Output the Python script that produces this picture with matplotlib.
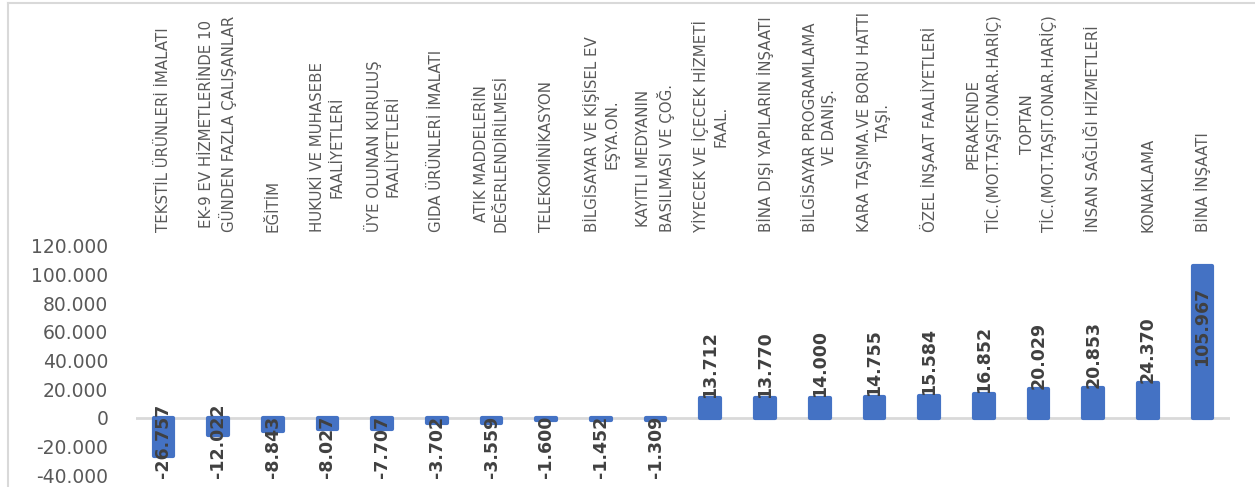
import matplotlib

matplotlib.use("Agg")
import matplotlib.pyplot as plt
from matplotlib.lines import Line2D
from matplotlib.transforms import blended_transform_factory

CATEGORIES = [
    "TEKSTİL ÜRÜNLERİ İMALATI",
    "EK-9 EV HİZMETLERİNDE 10\nGÜNDEN FAZLA ÇALIŞANLAR",
    "EĞİTİM",
    "HUKUKİ VE MUHASEBE\nFAALİYETLERİ",
    "ÜYE OLUNAN KURULUŞ\nFAALİYETLERİ",
    "GIDA ÜRÜNLERİ İMALATI",
    "ATIK MADDELERİN\nDEĞERLENDİRİLMESİ",
    "TELEKOMİNİKASYON",
    "BİLGİSAYAR VE KİŞİSEL EV\nEŞYA.ON.",
    "KAYITLI MEDYANIN\nBASILMASI VE ÇOĞ.",
    "YİYECEK VE İÇECEK HİZMETİ\nFAAL.",
    "BİNA DIŞI YAPILARIN İNŞAATI",
    "BİLGİSAYAR PROGRAMLAMA\nVE DANIŞ.",
    "KARA TAŞIMA.VE BORU HATTI\nTAŞI.",
    "ÖZEL İNŞAAT FAALİYETLERİ",
    "PERAKENDE\nTİC.(MOT.TAŞIT.ONAR.HARİÇ)",
    "TOPTAN\nTİC.(MOT.TAŞIT.ONAR.HARİÇ)",
    "İNSAN SAĞLIĞI HİZMETLERİ",
    "KONAKLAMA",
    "BİNA İNŞAATI",
]
VALUES = [
    -26757, -12022, -8843, -8027, -7707, -3702, -3559, -1600, -1452, -1309,
    13712, 13770, 14000, 14755, 15584, 16852, 20029, 20853, 24370, 105967,
]
Y_TICKS = [-40000, -20000, 0, 20000, 40000, 60000, 80000, 100000, 120000]

BLUE = "#4472C4"
GREY_TEXT = "#595959"
LABEL_TEXT = "#404040"
LINE_GREY = "#D9D9D9"


def tr_number(v: int) -> str:
    """Turkish thousands separator: 26757 -> 26.757"""
    return f"{v:,}".replace(",", ".")


fig = plt.figure(figsize=(12.55, 4.87), dpi=100)
ax = fig.add_axes([0.1084, 0.0123, 0.8716, 0.4826])

xpos = list(range(len(VALUES)))
ax.bar(xpos, VALUES, width=0.36, color=BLUE, edgecolor=BLUE, linewidth=3,
       joinstyle="round", zorder=2)
ax.axhline(0, color=LINE_GREY, linewidth=2, zorder=1)

ax.set_xlim(-0.5, len(VALUES) - 0.5)
ax.set_ylim(-44000, 120000)
ax.set_yticks(Y_TICKS, [tr_number(v) for v in Y_TICKS])
ax.tick_params(axis="y", length=0, pad=20, labelsize=13.5, labelcolor=GREY_TEXT)

ax.xaxis.tick_top()
ax.set_xticks(xpos, CATEGORIES, rotation=90, fontsize=10.8, color=GREY_TEXT,
              multialignment="center", linespacing=1.35)
ax.tick_params(axis="x", length=0, pad=10)

for side in ax.spines.values():
    side.set_visible(False)

# data labels: outside end when they fit, else inside end / pushed to the plot edge
bottom_tr = blended_transform_factory(ax.transData, ax.transAxes)
for x, v in zip(xpos, VALUES):
    text = tr_number(v)
    kw = dict(rotation=90, ha="center", fontsize=12.5, fontweight="bold",
              color=LABEL_TEXT, zorder=3)
    if v < 0:
        ax.text(x, 0.012, text, va="bottom", transform=bottom_tr, **kw)
    elif v > 60000:
        ax.annotate(text, (x, v), xytext=(0, -15), textcoords="offset points",
                    va="top", **kw)
    else:
        ax.text(x, v + 300, text, va="bottom", **kw)

# chart area border (top and left visible)
fig.add_artist(Line2D([8 / 1255, 8 / 1255], [0, 1 - 3 / 487], transform=fig.transFigure,
                      color=LINE_GREY, linewidth=1.5))
fig.add_artist(Line2D([8 / 1255, 1], [1 - 3 / 487, 1 - 3 / 487], transform=fig.transFigure,
                      color=LINE_GREY, linewidth=1.5))

fig.savefig("out.png", dpi=100)
plt.close(fig)
